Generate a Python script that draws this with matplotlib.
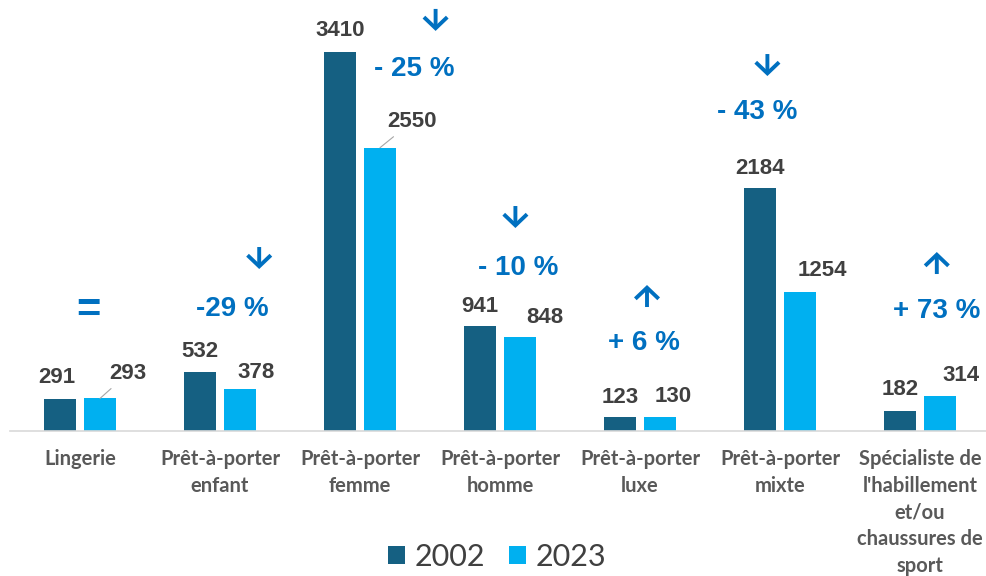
import numpy as np
import matplotlib
matplotlib.use("Agg")
import matplotlib.pyplot as plt
from matplotlib.transforms import offset_copy

categories = ["Lingerie", "Prêt-à-porter\nenfant", "Prêt-à-porter\nfemme",
              "Prêt-à-porter\nhomme", "Prêt-à-porter\nluxe", "Prêt-à-porter\nmixte",
              "Spécialiste de\nl'habillement\net/ou\nchaussures de\nsport"]
v2002 = [291, 532, 3410, 941, 123, 2184, 182]
v2023 = [293, 378, 2550, 848, 130, 1254, 314]
changes = ["=", "-29 %", "- 25 %", "- 10 %", "+ 6 %", "- 43 %", "+ 73 %"]
trend = [0, -1, -1, -1, 1, -1, 1]   # direction of the arrow above each note

# placement of labels (pixel offsets from bar top, and data coords for the change notes)
off2002 = [(-3, 21), (0, 20), (0, 22), (0, 20), (0, 20), (0, 20), (0, 21)]
off2023 = [(28, 25), (16, 17), (32, 26), (25, 19), (13, 20), (22, 21), (21, 21)]
leader = [True, False, True, False, False, False, False]
arrow_pos = [None, (1.28, 1557), (2.54, 3700), (3.11, 1926), (4.05, 1215), (4.91, 3294), (6.12, 1512)]
pct_pos = [(0.06, 1080), (1.09, 1098), (2.39, 3258), (3.13, 1467), (4.03, 792), (4.84, 2871), (6.12, 1080)]

dark = "#156082"
light = "#00B0F0"
blue = "#0070C0"

fig = plt.figure(figsize=(9.87, 5.76), dpi=100)
ax = fig.add_axes([10 / 987, 1 - 431 / 576, 980 / 987, 431 / 576])

x = np.arange(len(categories))
w = 32 / 140
gap = 8 / 140
b1 = ax.bar(x - (w + gap) / 2, v2002, w, color=dark, label="2002")
b2 = ax.bar(x + (w + gap) / 2, v2023, w, color=light, label="2023")

ax.set_xlim(-0.5, 6.5)
ax.set_ylim(0, 431 / 0.1111)

pt = 72 / 100
lab_kw = dict(ha="center", va="center", fontsize=16, fontweight="bold",
              color="#404040", family="Liberation Sans")
for i in range(len(categories)):
    r = b1[i]
    ax.annotate(str(v2002[i]), (r.get_x() + r.get_width() / 2, v2002[i]),
                xytext=(off2002[i][0] * pt, off2002[i][1] * pt),
                textcoords="offset points", **lab_kw)
    r = b2[i]
    ap = dict(arrowstyle="-", color="#A6A6A6", lw=0.8, shrinkA=2, shrinkB=0) if leader[i] else None
    ax.annotate(str(v2023[i]), (r.get_x() + r.get_width() / 2, v2023[i]),
                xytext=(off2023[i][0] * pt, off2023[i][1] * pt),
                textcoords="offset points", arrowprops=ap, **lab_kw)
    px, py = pct_pos[i]
    ax.text(px, py, changes[i], ha="center", va="center",
            fontsize=30 if changes[i] == "=" else 20,
            fontweight="bold", color=blue, family="Liberation Sans")
    if trend[i] != 0:
        ax_, ay_ = arrow_pos[i]
        half = 11 * pt * trend[i]
        tip = offset_copy(ax.transData, fig=fig, x=0, y=half, units="points")
        ax.annotate("", xy=(ax_, ay_), xycoords=tip, xytext=(0, -2 * half),
                    textcoords="offset points",
                    arrowprops=dict(arrowstyle="->, head_length=0.4, head_width=0.42",
                                    color=blue, lw=2.8, mutation_scale=20,
                                    shrinkA=0, shrinkB=0,
                                    capstyle="butt", joinstyle="miter"),
                    annotation_clip=False)

ax.set_xticks(x)
ax.set_xticklabels(categories, fontsize=14.5, fontweight="bold", color="#595959",
                   family="Lato", linespacing=1.42)
ax.tick_params(axis="x", length=0, pad=13)
ax.set_yticks([])
for s in ["top", "right", "left"]:
    ax.spines[s].set_visible(False)
ax.spines["bottom"].set_color("#D9D9D9")
ax.spines["bottom"].set_linewidth(1.2)

fig.legend(handles=[b1, b2], labels=["2002", "2023"], loc="center",
           bbox_to_anchor=(497 / 987, 1 - 557 / 576), ncol=2, frameon=False,
           prop=dict(family="Lato", size=22), labelcolor="#404040",
           handlelength=0.55, handleheight=0.55, handletextpad=0.3,
           columnspacing=0.8, borderpad=0)

fig.savefig("out.png", dpi=100)
